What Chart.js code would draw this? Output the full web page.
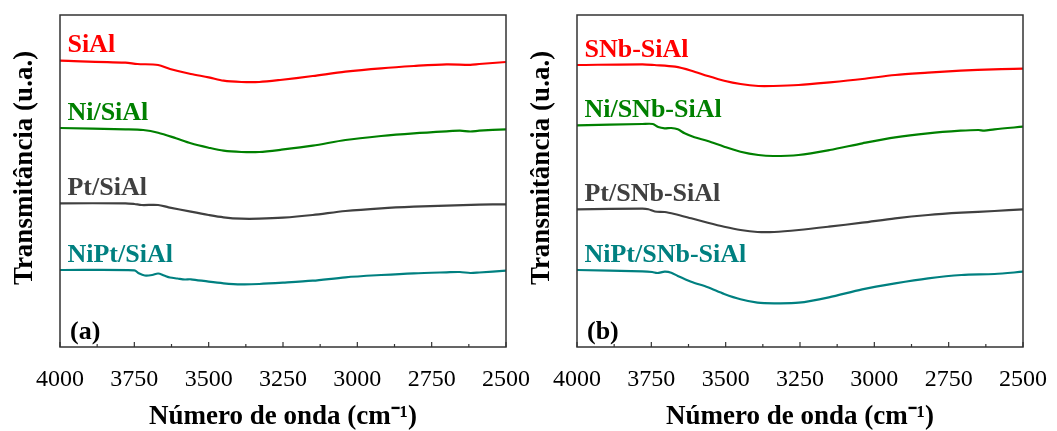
<!DOCTYPE html>
<html>
<head>
<meta charset="utf-8">
<script src="https://cdn.jsdelivr.net/npm/chart.js@4.4.0/dist/chart.umd.min.js"></script>
<style>
  html, body { margin: 0; padding: 0; background: #fff; }
  #wrap { position: relative; width: 1057px; height: 431px; overflow: hidden; }
  canvas { position: absolute; top: 0; }
  #chartA { left: 0; }
  #chartB { left: 517px; }
  .probe { font-family: "Liberation Serif"; position: absolute; left: -999px; }
</style>
</head>
<body>
<div id="wrap">
  <canvas id="chartA" width="540" height="431"></canvas>
  <canvas id="chartB" width="540" height="431"></canvas>
</div>
<span class="probe">a</span><span class="probe" style="font-weight:bold">a</span>
<script>
// FTIR spectra, OH stretching region (transmittance, stacked, arbitrary units)

// panel (a)
const wnSiAl = [4000, 3780, 3740, 3670, 3630, 3560, 3500, 3450, 3390, 3330, 3260, 3150, 3040, 2920, 2810, 2700, 2620, 2590, 2500];
const tSiAl = [286.3, 284.3, 283, 282, 278, 273, 269.7, 266.3, 265, 265, 267, 271, 275.3, 278.7, 281, 282.7, 282.2, 283, 285];

const wnNiSiAl = [4000, 3780, 3720, 3670, 3610, 3560, 3500, 3450, 3390, 3330, 3255, 3150, 3040, 2920, 2810, 2700, 2655, 2620, 2590, 2500];
const tNiSiAl = [219, 217.7, 217, 214.3, 208.7, 203.7, 199.3, 196.3, 195, 195, 197.3, 201.3, 207, 211, 213.7, 215.7, 216.3, 215.5, 216.3, 217.7];

const wnPtSiAl = [4000, 3780, 3750, 3725, 3670, 3635, 3560, 3500, 3450, 3390, 3330, 3250, 3150, 3040, 2920, 2810, 2700, 2590, 2500];
const tPtSiAl = [143.7, 143.7, 143, 142, 142, 139.7, 135.3, 132, 129.7, 128.3, 128.3, 129.3, 132, 136, 138.7, 140.3, 141.3, 142.3, 142.7];

const wnNiPtSiAl = [4000, 3750, 3735, 3715, 3690, 3670, 3650, 3630, 3605, 3580, 3560, 3500, 3450, 3390, 3330, 3250, 3150, 3040, 2920, 2810, 2700, 2655, 2620, 2590, 2500];
const tNiPtSiAl = [77, 76.7, 73.7, 71.5, 72, 73.5, 71.5, 69.5, 68.5, 67.5, 67.7, 65.3, 63.7, 62.7, 63, 64.3, 66.3, 69.7, 72, 73.7, 74.7, 75, 74, 74.5, 76.3];

// panel (b)
const wnSNb = [4000, 3780, 3740, 3670, 3615, 3560, 3505, 3450, 3390, 3340, 3255, 3150, 3040, 2930, 2820, 2710, 2600, 2500];
const tSNb = [282, 282.7, 282, 280.3, 276.3, 271, 266.3, 263, 261, 261, 262, 264.7, 268, 272, 274.3, 276.3, 277.7, 278.3];

const wnNiSNb = [4000, 3780, 3745, 3727, 3705, 3683, 3661, 3638, 3605, 3560, 3505, 3450, 3390, 3340, 3255, 3150, 3040, 2930, 2820, 2710, 2650, 2630, 2596, 2500];
const tNiSNb = [221.7, 223, 223, 220, 218.7, 219, 217.7, 213.7, 209.7, 206, 200.3, 195.3, 192, 191, 192, 197, 203.7, 209.7, 213.7, 216.3, 217, 216.3, 217.7, 220.3];

const wnPtSNb = [4000, 3780, 3760, 3738, 3705, 3672, 3616, 3560, 3505, 3450, 3393, 3337, 3254, 3153, 3041, 2930, 2819, 2707, 2596, 2500];
const tPtSNb = [137.7, 138.3, 137.7, 135.5, 135, 133, 128.7, 124.3, 120.3, 117, 115, 115, 117, 120.3, 124.3, 128.7, 132, 134.3, 136, 137.7];

const wnNiPtSNb = [4000, 3780, 3747, 3730, 3705, 3683, 3661, 3616, 3560, 3505, 3450, 3393, 3337, 3254, 3153, 3041, 2930, 2819, 2707, 2596, 2500];
const tNiPtSNb = [77, 75.7, 75, 74, 75.3, 74.3, 71, 65.3, 59.7, 53, 47.7, 44.3, 43.7, 44.3, 49.7, 57.7, 63.7, 68.7, 72, 73, 75.3];

const namesA = ['SiAl', 'Ni/SiAl', 'Pt/SiAl', 'NiPt/SiAl'];
const namesB = ['SNb-SiAl', 'Ni/SNb-SiAl', 'Pt/SNb-SiAl', 'NiPt/SNb-SiAl'];
const colors = ['#ff0000', '#008000', '#404040', '#008080'];

const SERIF = "'Liberation Serif', 'Times New Roman', serif";

function points(wn, t) {
  return wn.map((w, i) => ({ x: w, y: t[i] }));
}

// box, inward ticks, curve names, panel letter and vertical title
const decorations = {
  id: 'decorations',
  afterDraw(chart, args, opts) {
    const { ctx, chartArea: a, scales: { x, y } } = chart;
    ctx.save();
    ctx.strokeStyle = '#333';
    ctx.lineWidth = 1.5;
    ctx.strokeRect(a.left, a.top, a.right - a.left, a.bottom - a.top);
    ctx.lineWidth = 1.2;
    for (let v = 2500; v <= 4000; v += 125) {
      const px = x.getPixelForValue(v);
      const len = v % 250 === 0 ? 5 : 3;
      ctx.beginPath();
      ctx.moveTo(px, a.bottom);
      ctx.lineTo(px, a.bottom - len);
      ctx.stroke();
    }

    ctx.font = 'bold 26px ' + SERIF;
    ctx.textBaseline = 'alphabetic';
    ctx.textAlign = 'left';
    chart.data.datasets.forEach(ds => {
      ctx.fillStyle = ds.borderColor;
      ctx.fillText(ds.label, x.getPixelForValue(3975), y.getPixelForValue(ds.data[0].y) - 8.5);
    });

    ctx.fillStyle = '#000';
    ctx.fillText(opts.letter, a.left + 10, a.bottom - 8);

    ctx.translate(25, 168);
    ctx.rotate(-Math.PI / 2);
    ctx.textAlign = 'center';
    ctx.textBaseline = 'middle';
    ctx.font = 'bold 27px ' + SERIF;
    ctx.fillText('Transmitância (u.a.)', 0, 0);
    ctx.restore();
  }
};

function makeChart(id, series, names, letter, padRight) {
  const ctx = document.getElementById(id).getContext('2d');
  return new Chart(ctx, {
    type: 'line',
    data: {
      datasets: series.map((s, i) => ({
        label: names[i],
        data: points(s[0], s[1]),
        borderColor: colors[i],
        backgroundColor: colors[i],
        borderWidth: 2.2,
        pointRadius: 0,
        tension: 0.3,
        fill: false
      }))
    },
    options: {
      responsive: false,
      animation: false,
      layout: { padding: { left: 60, right: padRight, top: 15, bottom: 0 } },
      plugins: {
        legend: { display: false },
        tooltip: { enabled: false },
        decorations: { letter: letter }
      },
      scales: {
        x: {
          type: 'linear',
          reverse: true,
          min: 2500,
          max: 4000,
          grid: { display: false },
          border: { display: false },
          ticks: {
            stepSize: 250,
            padding: 10,
            color: '#000',
            maxRotation: 0,
            autoSkip: false,
            font: { family: SERIF, size: 24 },
            callback: v => String(v)
          },
          title: {
            display: true,
            text: 'Número de onda (cm\u207B\u00B9)',
            color: '#000',
            padding: 0,
            font: { family: SERIF, size: 27, weight: 'bold', lineHeight: 1 }
          },
          afterFit(scale) { scale.height = 84; }
        },
        y: {
          display: false,
          min: 0,
          max: 332
        }
      }
    },
    plugins: [decorations]
  });
}

function drawAll() {
  makeChart('chartA', [
    [wnSiAl, tSiAl], [wnNiSiAl, tNiSiAl], [wnPtSiAl, tPtSiAl], [wnNiPtSiAl, tNiPtSiAl]
  ], namesA, '(a)', 34);

  makeChart('chartB', [
    [wnSNb, tSNb], [wnNiSNb, tNiSNb], [wnPtSNb, tPtSNb], [wnNiPtSNb, tNiPtSNb]
  ], namesB, '(b)', 31);
}

Promise.all([
  document.fonts.load("24px 'Liberation Serif'"),
  document.fonts.load("bold 26px 'Liberation Serif'")
]).then(drawAll, drawAll);
</script>
</body>
</html>
